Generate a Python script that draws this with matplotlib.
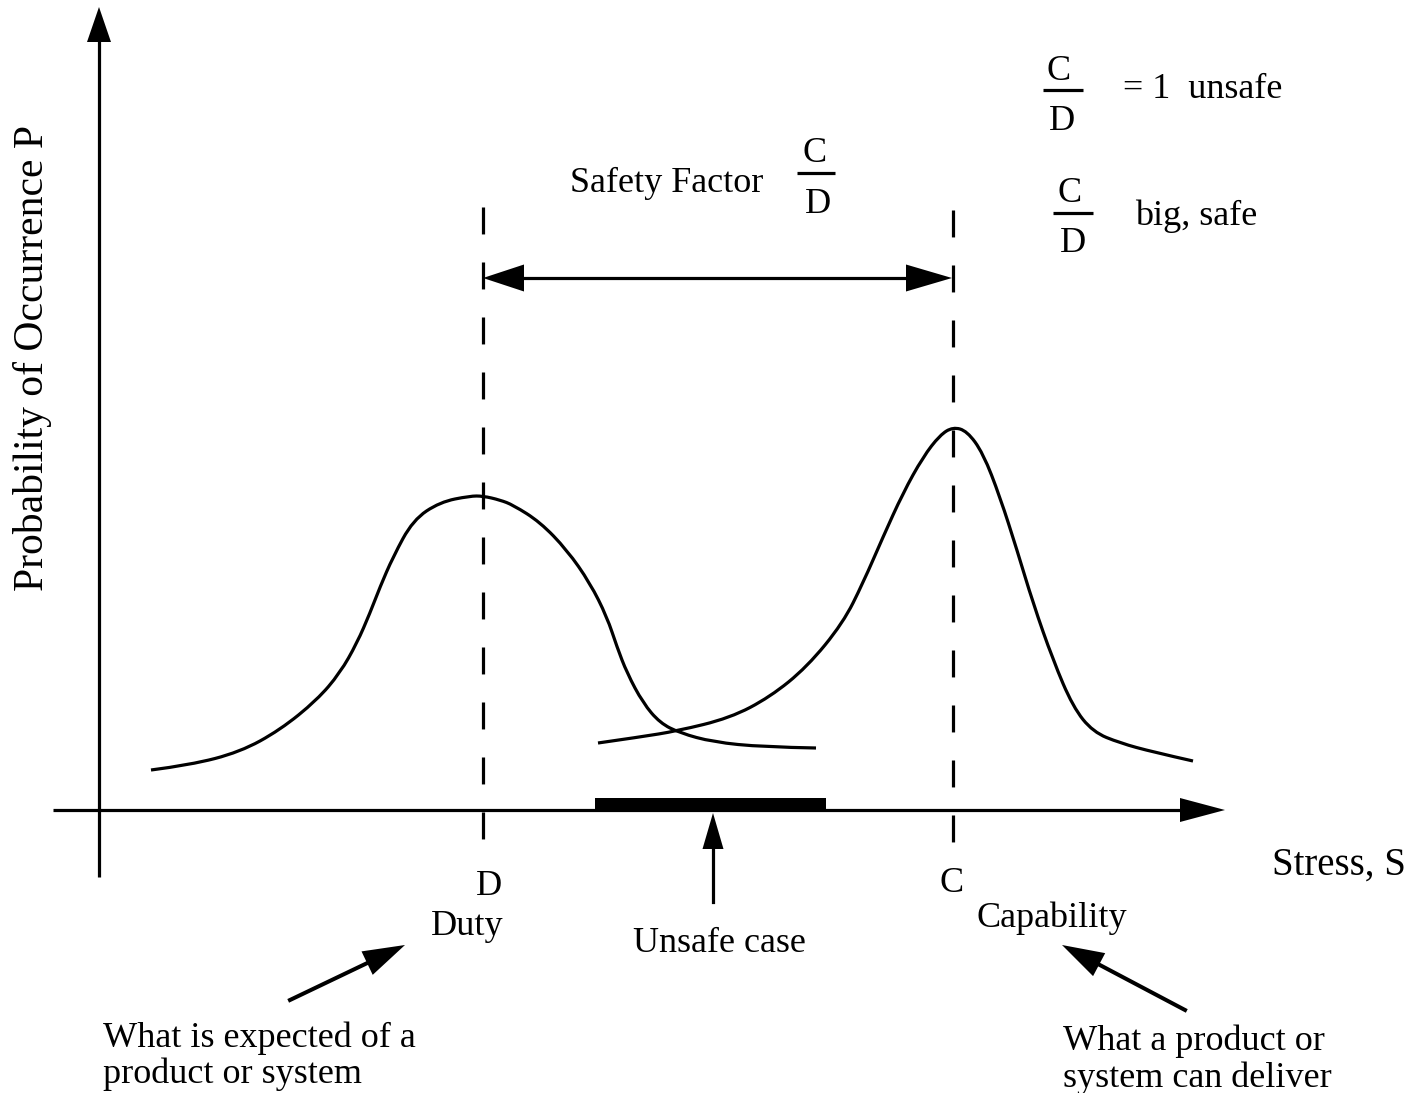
import matplotlib
matplotlib.use('Agg')
import matplotlib.pyplot as plt
from matplotlib.path import Path
from matplotlib.patches import PathPatch

plt.rcParams['font.family'] = ['Liberation Serif', 'DejaVu Serif']
plt.rcParams['lines.scale_dashes'] = False

# %% Data (pixel coordinates, y grows downward)
duty_x = [151, 190, 240, 280, 317, 340, 357, 370, 380, 393, 413, 440, 470, 483,
          500, 513, 540, 567, 590, 607, 617, 627, 643, 660, 680, 713, 763, 816]
duty_y = [770, 765, 752, 730, 700, 673, 643, 613, 587, 557, 520, 502, 496, 496,
          500, 505, 522, 550, 583, 617, 647, 673, 703, 723, 733, 742, 747, 748]

cap_x = [598, 640, 677, 730, 770, 807, 843, 863, 883, 903, 923, 940, 953, 967,
         983, 1000, 1017, 1033, 1053, 1073, 1093, 1120, 1153, 1193]
cap_y = [743, 737, 731, 718, 697, 667, 623, 583, 537, 493, 457, 435, 427, 431,
         453, 497, 550, 603, 660, 707, 732, 743, 752, 761]

D_X = 483          # duty marker on the stress axis
C_X = 953          # capability marker
AXIS_Y = 810       # stress axis
AXIS_X = 99        # probability axis
unsafe_span = [595, 826]

LW = 2.3
TXT = 26


def smooth_path(xs, ys):
    # quadratic bezier through the midpoints, read points act as controls
    pts = list(zip(xs, ys))
    verts, codes = [pts[0]], [Path.MOVETO]
    for i in range(1, len(pts) - 1):
        nxt = ((pts[i][0] + pts[i + 1][0]) / 2, (pts[i][1] + pts[i + 1][1]) / 2)
        if i == len(pts) - 2:
            nxt = pts[-1]
        verts += [pts[i], nxt]
        codes += [Path.CURVE3, Path.CURVE3]
    return Path(verts, codes)


# %% Canvas in pixel units
fig = plt.figure(figsize=(14.26, 10.93), dpi=100)
ax = fig.add_axes([0, 0, 1, 1])
ax.set_xlim(0, 1426)
ax.set_ylim(1093, 0)
ax.axis('off')

# axes with arrowheads
ax.plot([53, 1185], [AXIS_Y, AXIS_Y], color='k', lw=LW, solid_capstyle='butt')
ax.arrow(1170, AXIS_Y, 55, 0, width=0, head_width=24, head_length=45,
         length_includes_head=True, fc='k', ec='k', lw=0)
ax.plot([AXIS_X, AXIS_X], [877, 40], color='k', lw=LW, solid_capstyle='butt')
ax.arrow(AXIS_X, 60, 0, -53, width=0, head_width=24, head_length=35,
         length_includes_head=True, fc='k', ec='k', lw=0)

# the two distributions
for xs, ys in [(duty_x, duty_y), (cap_x, cap_y)]:
    ax.add_patch(PathPatch(smooth_path(xs, ys), fc='none', ec='k', lw=LW,
                           joinstyle='round', capstyle='butt'))

# dashed markers for D and C
for xv, top in [(D_X, 207), (C_X, 210)]:
    ax.plot([xv, xv], [top, 845], color='k', lw=LW,
            dashes=(19.4, 20.2), solid_capstyle='butt', dash_capstyle='butt')

# safety factor double arrow
mid = (D_X + C_X) / 2
ax.plot([D_X + 30, C_X - 30], [278, 278], color='k', lw=LW)
ax.arrow(mid, 278, D_X - mid, 0, width=0, head_width=27, head_length=41,
         length_includes_head=True, fc='k', ec='k', lw=0)
ax.arrow(mid, 278, C_X - 1 - mid, 0, width=0, head_width=27, head_length=46,
         length_includes_head=True, fc='k', ec='k', lw=0)

# unsafe overlap bar + arrow
ax.fill_between(unsafe_span, 798, 812, color='k', lw=0)
ax.plot([713, 713], [902, 840], color='k', lw=LW)
ax.arrow(713, 860, 0, -47, width=0, head_width=21, head_length=36,
         length_includes_head=True, fc='k', ec='k', lw=0)

# pointer arrows from the explanations
for tail, tip in [((290, 1000), (405, 945)), ((1185, 1010), (1062, 945))]:
    dx, dy = tip[0] - tail[0], tip[1] - tail[1]
    ax.plot([tail[0], tail[0] + 0.7 * dx], [tail[1], tail[1] + 0.7 * dy],
            color='k', lw=LW + 0.6)
    ax.arrow(tail[0], tail[1], dx, dy, width=0, head_width=26, head_length=42,
             length_includes_head=True, fc='k', ec='k', lw=0)


# %% Text
def txt(x, y, s, ha='left', size=TXT, **kw):
    ax.text(x, y, s, ha=ha, va='baseline', fontsize=size, color='k', **kw)


ax.text(33, 358, 'Probability of Occurrence P', rotation=90, ha='center',
        va='center', fontsize=30)
txt(1272, 875, 'Stress, S', size=28)
txt(489, 895, 'D', ha='center')
txt(467, 935, 'Duty', ha='center')
txt(719, 952, 'Unsafe case', ha='center')
txt(952, 892, 'C', ha='center')
txt(977, 927, 'Capability')
txt(103, 1047, 'What is expected of a')
txt(103, 1083, 'product or system')
txt(1063, 1050, 'What a product or')
txt(1063, 1087, 'system can deliver')

# fractions C/D
txt(570, 192, 'Safety Factor')
for cx, num_y, bar_y, den_y, x0, x1 in [(815, 162, 173, 213, 797, 835),
                                         (1059, 80, 90, 130, 1043, 1083),
                                         (1070, 202, 213, 252, 1053, 1093)]:
    txt(cx, num_y, 'C', ha='center')
    txt(cx + 3, den_y, 'D', ha='center')
    ax.plot([x0, x1], [bar_y, bar_y], color='k', lw=LW, solid_capstyle='butt')
txt(1123, 98, '= 1  unsafe')
txt(1135, 225, 'big, safe')

fig.savefig('out.png', dpi=100)
